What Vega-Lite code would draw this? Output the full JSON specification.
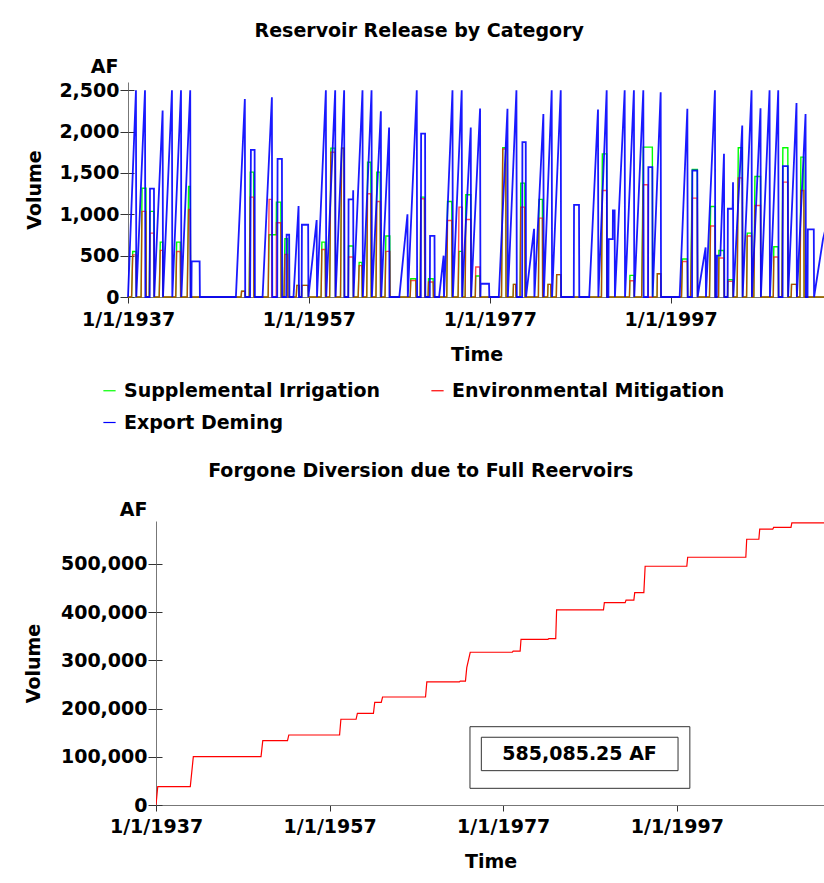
{
"$schema": "https://vega.github.io/schema/vega-lite/v6.json",
"background": "white",
"padding": {"left": 24, "top": 22, "right": 0, "bottom": 0},
"spacing": 98,
"config": {
 "font": "DejaVu Sans",
 "view": {"stroke": null},
 "axis": {"labelFont": "DejaVu Sans", "labelFontSize": 19, "labelFontWeight": "bold", "labelColor": "black", "titleFont": "DejaVu Sans", "titleFontSize": 19, "titleFontWeight": "bold", "titleColor": "black", "domainColor": "#777", "tickColor": "#333", "grid": false, "labelFlush": false, "labelOverlap": false},
 "title": {"font": "DejaVu Sans", "fontSize": 19, "fontWeight": "bold", "color": "black", "anchor": "middle", "frame": "bounds"},
 "legend": {"labelFont": "DejaVu Sans", "labelFontSize": 19, "labelFontWeight": "bold", "labelColor": "black"}
},
"datasets": {
 "gr": [
{"t":1937.00,"S":0,"M":0},{"t":1937.40,"S":0,"M":0},{"t":1937.52,"S":550,"M":510},{"t":1937.88,"S":550,"M":510},{"t":1937.92,"S":0,"M":0},
{"t":1938.45,"S":0,"M":0},{"t":1938.55,"S":1316,"M":1035},{"t":1938.99,"S":1316,"M":1035},{"t":1939.02,"S":0,"M":0},
{"t":1939.35,"S":0,"M":0},{"t":1939.43,"S":1035,"M":773},{"t":1939.87,"S":1035,"M":773},{"t":1939.90,"S":0,"M":0},
{"t":1940.45,"S":0,"M":0},{"t":1940.57,"S":664,"M":564},{"t":1940.83,"S":664,"M":564},{"t":1940.87,"S":0,"M":0},
{"t":1942.28,"S":0,"M":0},{"t":1942.38,"S":664,"M":550},{"t":1942.78,"S":664,"M":550},{"t":1942.82,"S":0,"M":0},
{"t":1943.55,"S":0,"M":0},{"t":1943.70,"S":1337,"M":1059},{"t":1943.88,"S":1337,"M":1059},{"t":1943.92,"S":0,"M":0},
{"t":1949.50,"S":0,"M":0},{"t":1949.56,"S":70,"M":70},{"t":1949.93,"S":70,"M":70},{"t":1949.96,"S":0,"M":0},
{"t":1950.40,"S":0,"M":0},{"t":1950.52,"S":1510,"M":1208},{"t":1950.89,"S":1510,"M":1208},{"t":1950.92,"S":0,"M":0},
{"t":1952.50,"S":0,"M":0},{"t":1952.60,"S":753,"M":1180},{"t":1952.88,"S":753,"M":1180},{"t":1952.90,"S":753,"M":0},{"t":1953.39,"S":753,"M":0},{"t":1953.41,"S":1147,"M":898},{"t":1953.90,"S":1147,"M":898},{"t":1953.93,"S":0,"M":0},
{"t":1954.25,"S":0,"M":0},{"t":1954.35,"S":705,"M":515},{"t":1954.65,"S":705,"M":515},{"t":1954.68,"S":0,"M":0},
{"t":1955.60,"S":0,"M":0},{"t":1955.67,"S":140,"M":140},{"t":1955.93,"S":140,"M":140},{"t":1955.96,"S":0,"M":0},
{"t":1956.20,"S":0,"M":0},{"t":1956.23,"S":140,"M":140},{"t":1956.92,"S":140,"M":140},{"t":1956.95,"S":0,"M":0},
{"t":1958.35,"S":0,"M":0},{"t":1958.44,"S":664,"M":575},{"t":1958.80,"S":664,"M":575},{"t":1958.84,"S":0,"M":0},
{"t":1959.30,"S":0,"M":0},{"t":1959.43,"S":1800,"M":1750},{"t":1959.90,"S":1800,"M":1750},{"t":1959.94,"S":0,"M":0},
{"t":1960.50,"S":0,"M":0},{"t":1960.62,"S":1800,"M":1800},{"t":1960.88,"S":1800,"M":1800},{"t":1960.92,"S":0,"M":0},
{"t":1961.36,"S":0,"M":0},{"t":1961.39,"S":616,"M":483},{"t":1961.90,"S":616,"M":483},{"t":1961.93,"S":0,"M":0},
{"t":1962.45,"S":0,"M":0},{"t":1962.56,"S":419,"M":380},{"t":1962.86,"S":419,"M":380},{"t":1962.90,"S":0,"M":0},
{"t":1963.40,"S":0,"M":0},{"t":1963.49,"S":1630,"M":1248},{"t":1963.85,"S":1630,"M":1248},{"t":1963.89,"S":0,"M":0},
{"t":1964.42,"S":0,"M":0},{"t":1964.51,"S":1510,"M":1155},{"t":1964.88,"S":1510,"M":1155},{"t":1964.92,"S":0,"M":0},
{"t":1965.42,"S":0,"M":0},{"t":1965.51,"S":737,"M":552},{"t":1965.95,"S":737,"M":552},{"t":1965.98,"S":0,"M":0},
{"t":1968.20,"S":0,"M":0},{"t":1968.27,"S":220,"M":200},{"t":1968.82,"S":220,"M":200},{"t":1968.85,"S":0,"M":0},
{"t":1969.30,"S":0,"M":0},{"t":1969.38,"S":1208,"M":1188},{"t":1969.78,"S":1208,"M":1188},{"t":1969.82,"S":0,"M":0},
{"t":1970.18,"S":0,"M":0},{"t":1970.23,"S":221,"M":181},{"t":1970.74,"S":221,"M":181},{"t":1970.77,"S":0,"M":0},
{"t":1972.25,"S":0,"M":0},{"t":1972.33,"S":1155,"M":926},{"t":1972.80,"S":1155,"M":926},{"t":1972.84,"S":0,"M":0},
{"t":1973.50,"S":0,"M":0},{"t":1973.60,"S":552,"M":1087},{"t":1973.97,"S":552,"M":1087},{"t":1974.00,"S":0,"M":0},
{"t":1974.28,"S":0,"M":0},{"t":1974.35,"S":1236,"M":938},{"t":1974.90,"S":1236,"M":938},{"t":1974.94,"S":0,"M":0},
{"t":1975.40,"S":0,"M":0},{"t":1975.45,"S":254,"M":362},{"t":1975.90,"S":254,"M":362},{"t":1975.93,"S":0,"M":0},
{"t":1978.30,"S":0,"M":0},{"t":1978.44,"S":1804,"M":1790},{"t":1978.77,"S":1804,"M":1790},{"t":1978.80,"S":0,"M":0},
{"t":1979.58,"S":0,"M":0},{"t":1979.62,"S":153,"M":153},{"t":1979.87,"S":153,"M":153},{"t":1979.90,"S":0,"M":0},
{"t":1980.35,"S":0,"M":0},{"t":1980.43,"S":1377,"M":1087},{"t":1980.87,"S":1377,"M":1087},{"t":1980.90,"S":0,"M":0},
{"t":1982.38,"S":0,"M":0},{"t":1982.45,"S":1180,"M":954},{"t":1982.82,"S":1180,"M":954},{"t":1982.85,"S":0,"M":0},
{"t":1983.40,"S":0,"M":0},{"t":1983.44,"S":153,"M":153},{"t":1983.74,"S":153,"M":153},{"t":1983.77,"S":0,"M":0},
{"t":1984.36,"S":0,"M":0},{"t":1984.40,"S":270,"M":270},{"t":1984.85,"S":270,"M":270},{"t":1984.88,"S":0,"M":0},
{"t":1989.35,"S":0,"M":0},{"t":1989.45,"S":1731,"M":1288},{"t":1989.93,"S":1731,"M":1288},{"t":1989.96,"S":0,"M":0},
{"t":1992.45,"S":0,"M":0},{"t":1992.50,"S":262,"M":197},{"t":1992.95,"S":262,"M":197},{"t":1992.98,"S":0,"M":0},
{"t":1993.80,"S":0,"M":0},{"t":1993.98,"S":1812,"M":1357},{"t":1994.50,"S":1812,"M":1357},{"t":1994.52,"S":1812,"M":0},{"t":1994.98,"S":1812,"M":0},{"t":1995.01,"S":0,"M":0},
{"t":1995.50,"S":0,"M":0},{"t":1995.53,"S":282,"M":282},{"t":1995.90,"S":282,"M":282},{"t":1995.93,"S":0,"M":0},
{"t":1998.20,"S":0,"M":0},{"t":1998.30,"S":460,"M":430},{"t":1998.85,"S":460,"M":430},{"t":1998.88,"S":0,"M":0},
{"t":1999.20,"S":0,"M":0},{"t":1999.40,"S":1542,"M":1196},{"t":1999.95,"S":1542,"M":1196},{"t":1999.98,"S":0,"M":0},
{"t":2001.30,"S":0,"M":0},{"t":2001.42,"S":1095,"M":858},{"t":2001.90,"S":1095,"M":858},{"t":2001.93,"S":0,"M":0},
{"t":2002.30,"S":0,"M":0},{"t":2002.34,"S":563,"M":471},{"t":2002.89,"S":563,"M":471},{"t":2002.92,"S":0,"M":0},
{"t":2003.30,"S":0,"M":0},{"t":2003.33,"S":209,"M":189},{"t":2003.88,"S":209,"M":189},{"t":2003.91,"S":0,"M":0},
{"t":2004.35,"S":0,"M":0},{"t":2004.48,"S":1804,"M":1441},{"t":2004.92,"S":1804,"M":1441},{"t":2004.96,"S":0,"M":0},
{"t":2005.40,"S":0,"M":0},{"t":2005.47,"S":773,"M":737},{"t":2005.95,"S":773,"M":737},{"t":2005.98,"S":0,"M":0},
{"t":2006.20,"S":0,"M":0},{"t":2006.32,"S":1457,"M":1107},{"t":2006.94,"S":1457,"M":1107},{"t":2006.97,"S":0,"M":0},
{"t":2008.35,"S":0,"M":0},{"t":2008.41,"S":608,"M":483},{"t":2008.90,"S":608,"M":483},{"t":2008.93,"S":0,"M":0},
{"t":2009.30,"S":0,"M":0},{"t":2009.41,"S":1804,"M":1389},{"t":2009.96,"S":1804,"M":1389},{"t":2009.99,"S":0,"M":0},
{"t":2010.33,"S":0,"M":0},{"t":2010.37,"S":153,"M":153},{"t":2010.92,"S":153,"M":153},{"t":2010.95,"S":0,"M":0},
{"t":2011.30,"S":0,"M":0},{"t":2011.40,"S":1691,"M":1288},{"t":2011.73,"S":1691,"M":1288},{"t":2011.76,"S":0,"M":0},
{"t":2014.07,"S":0,"M":0}
 ],
 "bl": [
{"t":1937.00,"E":0},{"t":1937.88,"E":2500},{"t":1937.92,"E":0},{"t":1938.88,"E":2500},{"t":1938.92,"E":0},
{"t":1939.40,"E":0},{"t":1939.43,"E":1310},{"t":1939.87,"E":1310},{"t":1939.90,"E":0},
{"t":1940.83,"E":2254},{"t":1940.87,"E":0},{"t":1941.86,"E":2500},{"t":1941.90,"E":0},{"t":1942.86,"E":2500},{"t":1942.90,"E":0},
{"t":1943.88,"E":2500},{"t":1943.92,"E":0},{"t":1944.01,"E":0},{"t":1944.04,"E":430},{"t":1944.92,"E":430},{"t":1944.95,"E":0},
{"t":1948.93,"E":0},{"t":1949.92,"E":2395},{"t":1949.96,"E":0},{"t":1950.50,"E":0},{"t":1950.59,"E":1780},{"t":1951.00,"E":1780},{"t":1951.03,"E":0},
{"t":1951.88,"E":0},{"t":1952.91,"E":2415},{"t":1952.95,"E":0},{"t":1953.50,"E":0},{"t":1953.54,"E":1670},{"t":1954.02,"E":1670},{"t":1954.05,"E":0},
{"t":1954.50,"E":0},{"t":1954.54,"E":753},{"t":1954.82,"E":753},{"t":1954.85,"E":0},{"t":1955.30,"E":0},{"t":1955.86,"E":1100},{"t":1955.90,"E":0},
{"t":1956.20,"E":0},{"t":1956.23,"E":874},{"t":1956.92,"E":874},{"t":1956.95,"E":0},{"t":1957.86,"E":930},{"t":1957.90,"E":0},
{"t":1958.88,"E":2500},{"t":1958.92,"E":0},{"t":1959.91,"E":2500},{"t":1959.95,"E":0},{"t":1960.90,"E":2500},{"t":1960.94,"E":0},
{"t":1961.36,"E":0},{"t":1961.39,"E":1180},{"t":1961.88,"E":1180},{"t":1961.90,"E":1290},{"t":1961.93,"E":0},
{"t":1962.93,"E":2500},{"t":1962.97,"E":0},{"t":1963.93,"E":2500},{"t":1963.97,"E":0},{"t":1964.96,"E":2245},{"t":1965.00,"E":0},{"t":1965.87,"E":2050},{"t":1965.91,"E":0},
{"t":1967.00,"E":0},{"t":1967.90,"E":1000},{"t":1967.94,"E":0},{"t":1968.93,"E":2500},{"t":1968.97,"E":0},
{"t":1969.38,"E":0},{"t":1969.41,"E":1975},{"t":1969.85,"E":1975},{"t":1969.88,"E":0},
{"t":1970.37,"E":0},{"t":1970.40,"E":740},{"t":1970.89,"E":740},{"t":1970.92,"E":0},
{"t":1971.40,"E":0},{"t":1971.90,"E":500},{"t":1971.94,"E":0},{"t":1972.88,"E":2500},{"t":1972.92,"E":0},{"t":1973.90,"E":2500},{"t":1973.94,"E":0},
{"t":1974.90,"E":2050},{"t":1974.94,"E":0},{"t":1975.93,"E":2280},{"t":1975.97,"E":0},{"t":1976.00,"E":160},{"t":1976.92,"E":160},{"t":1976.95,"E":0},
{"t":1978.00,"E":0},{"t":1978.96,"E":2275},{"t":1979.00,"E":0},{"t":1979.95,"E":2500},{"t":1979.99,"E":0},
{"t":1980.58,"E":0},{"t":1980.61,"E":1872},{"t":1980.98,"E":1872},{"t":1981.01,"E":0},{"t":1981.90,"E":825},{"t":1981.94,"E":0},
{"t":1982.93,"E":2214},{"t":1982.97,"E":0},{"t":1983.85,"E":2500},{"t":1983.89,"E":0},{"t":1984.85,"E":2500},{"t":1984.89,"E":0},
{"t":1986.29,"E":0},{"t":1986.32,"E":1115},{"t":1986.87,"E":1115},{"t":1986.90,"E":0},
{"t":1988.00,"E":0},{"t":1988.97,"E":2267},{"t":1989.01,"E":0},{"t":1989.93,"E":2500},{"t":1989.97,"E":0},
{"t":1990.12,"E":0},{"t":1990.15,"E":700},{"t":1990.60,"E":700},{"t":1990.62,"E":1046},{"t":1990.81,"E":1046},{"t":1990.84,"E":0},
{"t":1991.92,"E":2500},{"t":1991.96,"E":0},{"t":1992.94,"E":2500},{"t":1992.98,"E":0},{"t":1993.98,"E":2500},{"t":1994.02,"E":0},
{"t":1994.50,"E":0},{"t":1994.54,"E":1570},{"t":1994.98,"E":1570},{"t":1995.01,"E":0},{"t":1995.90,"E":2476},{"t":1995.94,"E":0},
{"t":1998.00,"E":0},{"t":1998.85,"E":2275},{"t":1998.89,"E":0},{"t":1999.37,"E":0},{"t":1999.40,"E":1530},{"t":1999.95,"E":1530},{"t":1999.98,"E":0},
{"t":2000.87,"E":600},{"t":2000.91,"E":0},{"t":2001.90,"E":2500},{"t":2001.94,"E":0},
{"t":2002.10,"E":0},{"t":2002.13,"E":500},{"t":2002.50,"E":500},{"t":2002.90,"E":1731},{"t":2002.94,"E":0},
{"t":2003.30,"E":0},{"t":2003.33,"E":1067},{"t":2003.86,"E":1067},{"t":2003.90,"E":1389},{"t":2003.93,"E":0},
{"t":2004.92,"E":2073},{"t":2004.96,"E":0},{"t":2005.95,"E":2500},{"t":2005.99,"E":0},{"t":2006.94,"E":2283},{"t":2006.98,"E":0},
{"t":2007.94,"E":2500},{"t":2007.98,"E":0},{"t":2008.90,"E":2500},{"t":2008.94,"E":0},
{"t":2009.38,"E":0},{"t":2009.41,"E":1582},{"t":2009.96,"E":1582},{"t":2009.99,"E":0},
{"t":2010.92,"E":2347},{"t":2010.96,"E":0},{"t":2011.92,"E":2214},{"t":2011.96,"E":0},
{"t":2012.14,"E":0},{"t":2012.17,"E":817},{"t":2012.83,"E":817},{"t":2012.86,"E":0},{"t":2013.85,"E":700},{"t":2014.07,"E":800}
 ],
 "cum": [
{"t":1937.00,"v":0},{"t":1937.20,"v":38000},{"t":1940.95,"v":38000},{"t":1941.30,"v":100200},
{"t":1949.10,"v":100200},{"t":1949.30,"v":133400},{"t":1952.15,"v":133400},{"t":1952.30,"v":145200},
{"t":1958.15,"v":145200},{"t":1958.30,"v":177800},{"t":1960.05,"v":177800},{"t":1960.20,"v":190200},
{"t":1962.05,"v":190200},{"t":1962.20,"v":213000},{"t":1962.95,"v":213000},{"t":1963.10,"v":224000},
{"t":1968.05,"v":224000},{"t":1968.20,"v":255200},{"t":1971.95,"v":255200},{"t":1972.05,"v":257000},
{"t":1972.65,"v":257000},{"t":1972.80,"v":285000},{"t":1973.20,"v":316800},{"t":1978.05,"v":316800},
{"t":1978.15,"v":319000},{"t":1978.95,"v":319000},{"t":1979.05,"v":343700},{"t":1982.15,"v":343700},
{"t":1982.25,"v":345000},{"t":1983.05,"v":345000},{"t":1983.15,"v":404500},{"t":1988.55,"v":404500},
{"t":1988.65,"v":419700},{"t":1991.05,"v":419700},{"t":1991.15,"v":425000},{"t":1992.05,"v":425000},
{"t":1992.15,"v":440500},{"t":1993.20,"v":440500},{"t":1993.35,"v":495200},{"t":1998.15,"v":495200},
{"t":1998.25,"v":513800},{"t":2004.95,"v":513800},{"t":2005.05,"v":551200},{"t":2006.45,"v":551200},
{"t":2006.55,"v":572000},{"t":2008.05,"v":572000},{"t":2008.15,"v":575700},{"t":2010.15,"v":575700},
{"t":2010.25,"v":585085},{"t":2014.07,"v":585085}
 ]
},
"vconcat": [
 {
  "title": {"text": "Reservoir Release by Category", "offset": 16, "dx": -20},
  "width": 669, "height": 215,
  "resolve": {"axis": {"y": "independent"}},
  "layer": [
   {
    "data": {"name": "gr"},
    "transform": [{"fold": ["S"], "as": ["c", "v"]}],
    "mark": {"type": "line", "strokeWidth": 1.4, "opacity": 1},
    "encoding": {
     "x": {"field": "t", "type": "quantitative", "scale": {"domain": [1937, 2014.07], "range": [-28, 669], "nice": false, "zero": false},
           "axis": {"values": [1937, 1957, 1977, 1997], "labelExpr": "'1/1/' + datum.value", "title": "Time", "tickSize": 6, "labelPadding": 7, "titlePadding": 16}},
     "y": {"field": "v", "type": "quantitative", "scale": {"domain": [0, 2600], "nice": false},
           "axis": {"offset": 28, "values": [0, 500, 1000, 1500, 2000, 2500], "format": ",d", "title": "AF", "titleAngle": 0, "titleAlign": "right", "titleBaseline": "alphabetic", "titleX": -10, "titleY": -10, "tickSize": 8, "labelPadding": 1}},
     "color": {"field": "c", "type": "nominal", "scale": {"domain": ["S", "M", "E"], "range": ["#00ff00", "#ff0000", "#0000ff"]},
               "legend": {"title": null, "orient": "none", "legendX": -56, "legendY": 299, "direction": "horizontal", "columns": 2, "symbolType": "stroke", "symbolSize": 150, "symbolStrokeWidth": 1.2, "labelOffset": 5, "columnPadding": 48, "rowPadding": 12, "labelLimit": 400,
                          "labelExpr": "datum.label == 'S' ? 'Supplemental Irrigation' : datum.label == 'M' ? 'Environmental Mitigation' : 'Export Deming'"}}
    }
   },
   {
    "data": {"name": "gr"},
    "transform": [{"fold": ["M"], "as": ["c", "v"]}],
    "mark": {"type": "line", "strokeWidth": 1.4, "opacity": 0.7},
    "encoding": {
     "x": {"field": "t", "type": "quantitative",
           "axis": {"values": [1937, 1957, 1977, 1997], "labelExpr": "'1/1/' + datum.value", "title": "Time", "tickSize": 6, "labelPadding": 7, "titlePadding": 16}},
     "y": {"field": "v", "type": "quantitative", "axis": null},
     "color": {"field": "c", "type": "nominal"}
    }
   },
   {
    "data": {"name": "bl"},
    "transform": [{"fold": ["E"], "as": ["c", "v"]}],
    "mark": {"type": "line", "strokeWidth": 1.8, "opacity": 0.9},
    "encoding": {
     "x": {"field": "t", "type": "quantitative",
           "axis": {"values": [1937, 1957, 1977, 1997], "labelExpr": "'1/1/' + datum.value", "title": "Time", "tickSize": 6, "labelPadding": 7, "titlePadding": 16}},
     "y": {"field": "v", "type": "quantitative",
           "axis": {"orient": "left", "offset": 28, "values": [0, 500, 1000, 1500, 2000, 2500], "labels": false, "domain": false, "tickSize": -6, "title": "Volume", "titleAngle": -90, "titleAlign": "center", "titleBaseline": "middle", "titleX": -93.5, "titleY": 107.5}},
     "color": {"field": "c", "type": "nominal"}
    }
   }
  ]
 },
 {
  "title": {"text": "Forgone Diversion due to Full Reervoirs", "offset": 19, "dx": -4},
  "width": 669, "height": 284,
  "resolve": {"axis": {"y": "independent"}},
  "layer": [
   {
    "data": {"name": "cum"},
    "mark": {"type": "line", "color": "#ff0000", "strokeWidth": 1.2, "clip": true},
    "encoding": {
     "x": {"field": "t", "type": "quantitative", "scale": {"domain": [1937, 2014.07], "nice": false, "zero": false},
           "axis": {"values": [1937, 1957, 1977, 1997], "labelExpr": "'1/1/' + datum.value", "title": "Time", "tickSize": 6, "labelPadding": 6, "titlePadding": 16}},
     "y": {"field": "v", "type": "quantitative", "scale": {"domain": [0, 589000], "nice": false},
           "axis": {"values": [0, 100000, 200000, 300000, 400000, 500000], "format": ",d", "title": "AF", "titleAngle": 0, "titleAlign": "right", "titleBaseline": "alphabetic", "titleX": -9, "titleY": -6, "tickSize": 8, "labelPadding": 1}}
    }
   },
   {
    "data": {"name": "cum"},
    "mark": {"type": "line", "opacity": 0},
    "encoding": {
     "x": {"field": "t", "type": "quantitative",
           "axis": {"values": [1937, 1957, 1977, 1997], "labelExpr": "'1/1/' + datum.value", "title": "Time", "tickSize": 6, "labelPadding": 6, "titlePadding": 16}},
     "y": {"field": "v", "type": "quantitative",
           "axis": {"orient": "left", "values": [0, 100000, 200000, 300000, 400000, 500000], "labels": false, "domain": false, "tickSize": -6, "title": "Volume", "titleAngle": -90, "titleAlign": "center", "titleBaseline": "middle", "titleX": -122.5, "titleY": 142}}
    }
   },
   {
    "data": {"values": [{}]},
    "mark": {"type": "rect", "fill": "white", "stroke": "#333", "strokeWidth": 1},
    "encoding": {
     "x": {"datum": 1973.17, "type": "quantitative",
           "axis": {"values": [1937, 1957, 1977, 1997], "labelExpr": "'1/1/' + datum.value", "title": "Time", "tickSize": 6, "labelPadding": 6, "titlePadding": 16}},
     "x2": {"datum": 1998.5},
     "y": {"datum": 34600, "type": "quantitative", "axis": null}, "y2": {"datum": 162400}
    }
   },
   {
    "data": {"values": [{}]},
    "mark": {"type": "rect", "fill": "white", "stroke": "#333", "strokeWidth": 1},
    "encoding": {
     "x": {"datum": 1974.48, "type": "quantitative",
           "axis": {"values": [1937, 1957, 1977, 1997], "labelExpr": "'1/1/' + datum.value", "title": "Time", "tickSize": 6, "labelPadding": 6, "titlePadding": 16}},
     "x2": {"datum": 1997.14},
     "y": {"datum": 71200, "type": "quantitative", "axis": null}, "y2": {"datum": 140500}
    }
   },
   {
    "data": {"values": [{"label": "585,085.25 AF"}]},
    "mark": {"type": "text", "font": "DejaVu Sans", "fontSize": 19, "fontWeight": "bold", "color": "black", "align": "center", "baseline": "middle"},
    "encoding": {
     "x": {"datum": 1985.8, "type": "quantitative",
           "axis": {"values": [1937, 1957, 1977, 1997], "labelExpr": "'1/1/' + datum.value", "title": "Time", "tickSize": 6, "labelPadding": 6, "titlePadding": 16}},
     "y": {"datum": 105800, "type": "quantitative", "axis": null},
     "text": {"field": "label"}
    }
   }
  ]
 }
]
}
